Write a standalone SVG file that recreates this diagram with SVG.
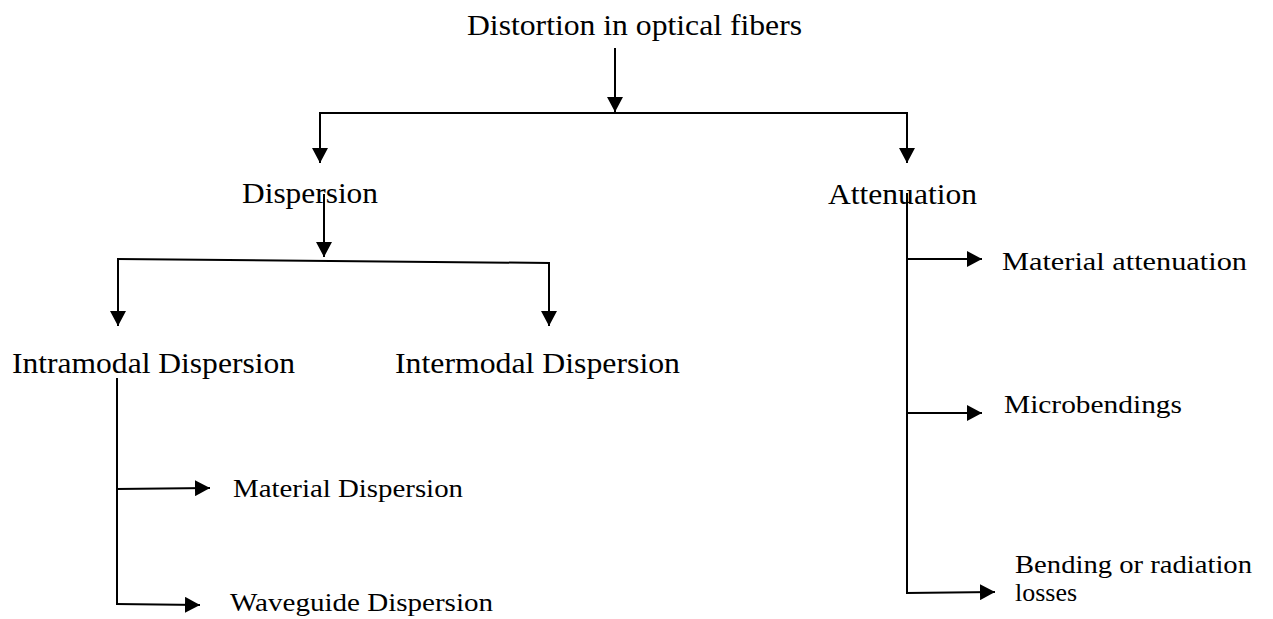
<svg xmlns="http://www.w3.org/2000/svg" width="1273" height="619" viewBox="0 0 1273 619">
<style>
.big{font-family:"Liberation Serif","Times New Roman",serif;font-size:30px;fill:#000}
.small{font-family:"Liberation Serif","Times New Roman",serif;font-size:25px;fill:#000}
.ln{stroke:#000;stroke-width:2;fill:none}
.ar{stroke:#000;stroke-width:2;fill:none;marker-end:url(#ah)}
</style>
<defs>
<marker id="ah" markerUnits="userSpaceOnUse" markerWidth="16" markerHeight="16" refX="15" refY="8" orient="auto">
<path d="M0,0 L15,8 L0,16 Z" fill="#000"/>
</marker>
</defs>
<rect width="1273" height="619" fill="#fff"/>
<g id="nodes">
<g id="n-root"><text class="big" x="467" y="35" textLength="335" lengthAdjust="spacingAndGlyphs">Distortion in optical fibers</text></g>
<g id="n-dispersion"><text class="big" x="242" y="203" textLength="136" lengthAdjust="spacingAndGlyphs">Dispersion</text></g>
<g id="n-attenuation"><text class="big" x="828" y="204" textLength="149" lengthAdjust="spacingAndGlyphs">Attenuation</text></g>
<g id="n-intramodal"><text class="big" x="12" y="373" textLength="283" lengthAdjust="spacingAndGlyphs">Intramodal Dispersion</text></g>
<g id="n-intermodal"><text class="big" x="395" y="373" textLength="285" lengthAdjust="spacingAndGlyphs">Intermodal Dispersion</text></g>
<g id="n-material-dispersion"><text class="small" x="233" y="497" textLength="230" lengthAdjust="spacingAndGlyphs">Material Dispersion</text></g>
<g id="n-waveguide"><text class="small" x="230" y="611" textLength="263" lengthAdjust="spacingAndGlyphs">Waveguide Dispersion</text></g>
<g id="n-material-attenuation"><text class="small" x="1002" y="270" textLength="245" lengthAdjust="spacingAndGlyphs">Material attenuation</text></g>
<g id="n-microbendings"><text class="small" x="1004" y="413" textLength="178" lengthAdjust="spacingAndGlyphs">Microbendings</text></g>
<g id="n-bending"><text class="small" x="1015" y="573" textLength="237" lengthAdjust="spacingAndGlyphs">Bending or radiation</text><text class="small" x="1015" y="601" textLength="62" lengthAdjust="spacingAndGlyphs">losses</text></g>
</g>
<g id="connectors">
<line class="ar" x1="615" y1="48" x2="615" y2="112"/>
<line class="ln" x1="319" y1="113" x2="908" y2="113"/>
<line class="ar" x1="320" y1="113" x2="320" y2="163"/>
<line class="ar" x1="907" y1="113" x2="907" y2="163"/>
<line class="ar" x1="324" y1="194" x2="324" y2="257"/>
<line class="ln" x1="117" y1="259" x2="550" y2="263"/>
<line class="ar" x1="118" y1="259" x2="118" y2="326"/>
<line class="ar" x1="549" y1="263" x2="549" y2="326"/>
<line class="ln" x1="117" y1="378" x2="117" y2="605"/>
<line class="ar" x1="116" y1="489" x2="210" y2="488"/>
<line class="ar" x1="116" y1="604" x2="200" y2="605"/>
<line class="ln" x1="907" y1="193" x2="907" y2="594"/>
<line class="ar" x1="906" y1="259" x2="982" y2="259"/>
<line class="ar" x1="906" y1="413" x2="982" y2="413"/>
<line class="ar" x1="906" y1="593" x2="995" y2="592"/>
</g>
</svg>
